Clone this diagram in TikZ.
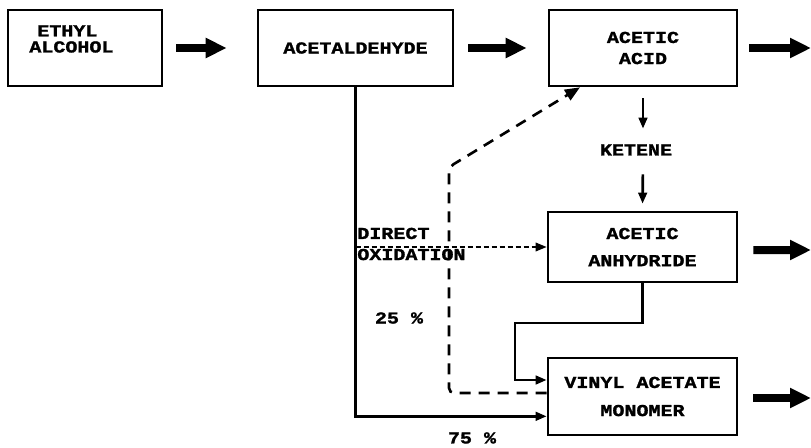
\documentclass[tikz,border=0pt]{standalone}
\usepackage{fontspec}
\newfontfamily\flowfont{Liberation Mono}[FakeStretch=1.2,BoldFeatures={FakeBold=1.5}]
\usetikzlibrary{arrows.meta}

\begin{document}
\begin{tikzpicture}[x=1cm,y=1cm,
  lbl/.style={inner sep=0pt,font=\flowfont\bfseries\fontsize{9.5}{12}\selectfont},
  procbox/.style={lbl,draw,line width=1.5pt,align=center},
  fatarrow/.style={line width=0.16cm,-{Triangle[length=0.42cm,width=0.38cm]}},
  flow/.style={line width=1.5pt,-{Triangle[length=0.22cm,width=0.17cm]}},
  oxline/.style={line width=1pt,dash pattern=on 0.1cm off 0.06cm,-{Triangle[length=0.22cm,width=0.17cm]}},
  recycle/.style={line width=1.5pt,dash pattern=on 0.22cm off 0.16cm,rounded corners=0.1cm,-{Triangle[length=0.3cm,width=0.24cm]}}]
\path[use as bounding box] (0,0) rectangle (16.22,8.94);
% process boxes
\node[procbox,minimum width=3.08cm,minimum height=1.52cm] (ethyl) at (1.70,7.98) {};
\node[lbl,anchor=west,align=left] (ethyltxt) at (0.58,8.16) {\hspace{0.16cm}ETHYL\\[-0.1cm]ALCOHOL};
\node[procbox,minimum width=3.90cm,minimum height=1.52cm] (acetal) at (7.11,7.98) {ACETALDEHYDE};
\node[procbox,minimum width=3.76cm,minimum height=1.52cm] (acetic) at (12.86,7.98) {ACETIC\\ACID};
\node[procbox,minimum width=3.78cm,minimum height=1.40cm] (anhyd) at (12.85,4.00) {ACETIC\\[0.12cm]ANHYDRIDE};
\node[procbox,minimum width=3.78cm,minimum height=1.54cm] (vam) at (12.85,1.01) {VINYL ACETATE\\[0.14cm]MONOMER};
% labels
\node[lbl] (ketene) at (12.72,5.94) {KETENE};
\node[lbl,anchor=west,align=left] (oxlabel) at (7.14,4.06) {DIRECT\\OXIDATION};
\node[lbl] (pct25) at (7.98,2.58) {25 \%};
\node[lbl] (pct75) at (9.44,0.18) {75 \%};
\coordinate (outA) at (16.22,7.98);
\coordinate (outB) at (16.22,3.94);
\coordinate (outC) at (16.22,0.98);
\coordinate (jog) at (10.30,2.48);
\coordinate (rcyc) at (8.98,5.60);
% main line
\draw[fatarrow] ([xshift=0.26cm]ethyl.east) -- ([xshift=-0.60cm]acetal.west);
\draw[fatarrow] ([xshift=0.28cm]acetal.east) -- ([xshift=-0.42cm]acetic.west);
\draw[fatarrow] ([xshift=0.22cm]acetic.east) -- (outA);
\draw[fatarrow] ([xshift=0.30cm,yshift=-0.06cm]anhyd.east) -- (outB);
\draw[fatarrow] ([xshift=0.30cm,yshift=-0.03cm]vam.east) -- (outC);
% ketene route
\draw[flow,shorten <=0.22cm,shorten >=0.31cm] (acetic.south) -- (acetic.south |- ketene.north);
\draw[flow,shorten <=0.37cm,shorten >=0.14cm] (acetic.south |- ketene.south) -- (anhyd.north);
\draw[flow] (anhyd.south) |- (jog) |- ([yshift=0.33cm]vam.west);
% acetaldehyde branches
\draw[flow] (acetal.south) |- ([yshift=0.40cm]vam.south west);
\draw[oxline] (acetal.south |- anhyd.west) -- (anhyd.west);
% acetic acid recycle
\draw[recycle] ([yshift=0.07cm]vam.west) -| (rcyc) -- ([xshift=-1.26cm]acetic.south);
\end{tikzpicture}
\end{document}
